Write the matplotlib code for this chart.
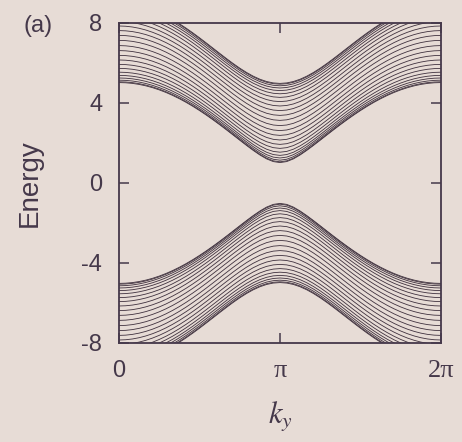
import numpy as np
import matplotlib
matplotlib.use("Agg")
import matplotlib.pyplot as plt

# Momentum samples along k_y (0 .. pi, mirrored to 2*pi)
ky_half = np.arange(25) * np.pi / 24
ky = np.concatenate([ky_half, 2 * np.pi - ky_half[-2::-1]])

# Normalised k_y dependence of the band dispersion (1 at k_y = 0, 0 at k_y = pi)
weight_half = [1.0, 0.9957, 0.9830, 0.9619, 0.9330, 0.8967, 0.8536, 0.8044, 0.75,
               0.6913, 0.6294, 0.5653, 0.5, 0.4347, 0.3706, 0.3087, 0.25, 0.1956,
               0.1464, 0.1033, 0.0670, 0.0381, 0.0170, 0.0043, 0.0]
weight = np.array(weight_half + weight_half[-2::-1])

# Energy of each upper (conduction) band at k_y = pi and at k_y = 0
upper_at_pi = [4.98, 4.94, 4.86, 4.75, 4.62, 4.46, 4.28, 4.07, 3.85, 3.62, 3.38, 3.13,
               2.87, 2.62, 2.38, 2.15, 1.93, 1.73, 1.54, 1.38, 1.25, 1.14, 1.06, 1.02]
upper_at_0 = [8.98, 8.94, 8.86, 8.75, 8.62, 8.46, 8.28, 8.07, 7.85, 7.62, 7.38, 7.13,
              6.87, 6.62, 6.38, 6.15, 5.93, 5.73, 5.54, 5.38, 5.25, 5.14, 5.06, 5.02]

x_ticks = [0, np.pi, 2 * np.pi]
x_ticklabels = ["0", "\u03c0", "2\u03c0"]
y_ticks = [-8, -4, 0, 4, 8]
y_ticklabels = ["-8", "-4", "0", "4", "8"]

bg = "#e7dcd6"
ink = "#45384a"
line_col = "#3f313e"

plt.rcParams["mathtext.fontset"] = "stix"
fig = plt.figure(figsize=(4.62, 4.42), dpi=100, facecolor=bg)
ax = fig.add_axes([0.2576, 0.224, 0.6969, 0.724])
ax.set_facecolor(bg)

for e_pi, e_0 in zip(upper_at_pi, upper_at_0):
    band = np.sqrt(e_pi ** 2 + (e_0 ** 2 - e_pi ** 2) * weight)
    ax.plot(ky, band, color=line_col, lw=0.6)
    ax.plot(ky, -band, color=line_col, lw=0.6)

ax.set_xlim(0, 2 * np.pi)
ax.set_ylim(-8, 8)
ax.set_xticks(x_ticks)
ax.set_xticklabels(x_ticklabels)
ax.set_yticks(y_ticks)
ax.set_yticklabels(y_ticklabels)

for lab in ax.get_xticklabels():
    if "\u03c0" in lab.get_text():
        lab.set_fontfamily("Liberation Serif")
        lab.set_fontsize(19)
    else:
        lab.set_fontfamily("Liberation Sans")
        lab.set_fontsize(17)
for lab in ax.get_yticklabels():
    lab.set_fontfamily("Liberation Sans")
    lab.set_fontsize(17)

ax.tick_params(direction="in", length=7, width=1.1, color=ink, labelcolor=ink,
               top=True, right=True)
ax.tick_params(axis="y", pad=12)
ax.tick_params(axis="x", pad=12)
for s in ax.spines.values():
    s.set_color(ink)
    s.set_linewidth(1.3)

ax.set_ylabel("Energy", fontsize=20, family="Liberation Sans", color=ink, labelpad=28)
ax.set_xlabel("$k_y$", fontsize=22, color=ink, labelpad=13)

fig.text(38 / 462, 1 - 26 / 442, "(a)", fontsize=17, family="Liberation Sans",
         color=ink, ha="center", va="center")

fig.savefig("out.png", dpi=100, facecolor=bg)
